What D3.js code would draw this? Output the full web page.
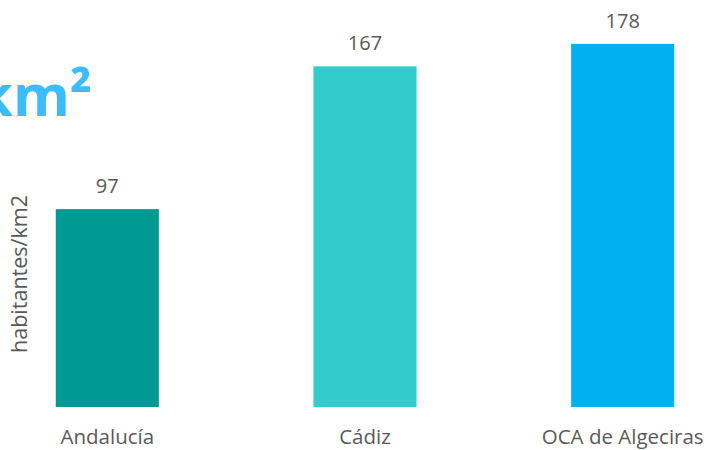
<!DOCTYPE html>
<html>
<head>
<meta charset="utf-8">
<script src="https://cdn.jsdelivr.net/npm/d3@7"></script>
<style>
  body { margin: 0; background: #fff; }
  text { font-family: "Open Sans", sans-serif; }
</style>
</head>
<body>
<div id="chart"></div>
<script>
var categories = ["Andalucía", "Cádiz", "OCA de Algeciras"];
var values = [97, 167, 178];
var colors = ["#009a94", "#33cccc", "#00b0f0"];
var yLabel = "habitantes/km2";
var title = "km²";

var w = 710,
	h = 450,
	svg = d3
		.select("#chart")
		.append("svg")
		.attr("width", w)
		.attr("height", h);

var x = d3.scaleBand()
	.domain(categories)
	.range([30, 700])
	.paddingInner(0.6)
	.paddingOuter(0.1);

var y = d3.scaleLinear()
	.domain([0, 200])
	.range([407, -1]);

// title (cut off on the left, as in the original)
svg.append("text")
	.attr("x", 92)
	.attr("y", 116)
	.attr("text-anchor", "end")
	.style("font-size", "58px")
	.style("font-weight", "bold")
	.style("fill", "#3cbcff")
	.text(title);

// bars
svg.selectAll("rect.bar")
	.data(values)
	.enter()
	.append("rect")
	.attr("class", "bar")
	.attr("x", function(d, i) { return x(categories[i]); })
	.attr("y", function(d) { return y(d); })
	.attr("width", x.bandwidth())
	.attr("height", function(d) { return y(0) - y(d); })
	.attr("fill", function(d, i) { return colors[i]; });

// value labels
svg.selectAll("text.val")
	.data(values)
	.enter()
	.append("text")
	.attr("class", "val")
	.attr("x", function(d, i) { return x(categories[i]) + x.bandwidth() / 2; })
	.attr("y", function(d) { return y(d) - 16; })
	.attr("text-anchor", "middle")
	.style("font-size", "20px")
	.style("fill", "#595959")
	.text(function(d) { return d; });

// category labels, kept inside the right edge
svg.selectAll("text.cat")
	.data(categories)
	.enter()
	.append("text")
	.attr("class", "cat")
	.attr("y", 444)
	.attr("text-anchor", "middle")
	.style("font-size", "20.5px")
	.style("fill", "#595959")
	.text(function(d) { return d; })
	.attr("x", function(d) {
		var cx = x(d) + x.bandwidth() / 2;
		var half = this.getComputedTextLength() / 2;
		return Math.min(cx, 708 - half);
	});

// y axis title
svg.append("text")
	.attr("transform", "translate(27,274) rotate(-90)")
	.attr("text-anchor", "middle")
	.style("font-size", "21.5px")
	.style("fill", "#595959")
	.text(yLabel);
</script>
</body>
</html>
